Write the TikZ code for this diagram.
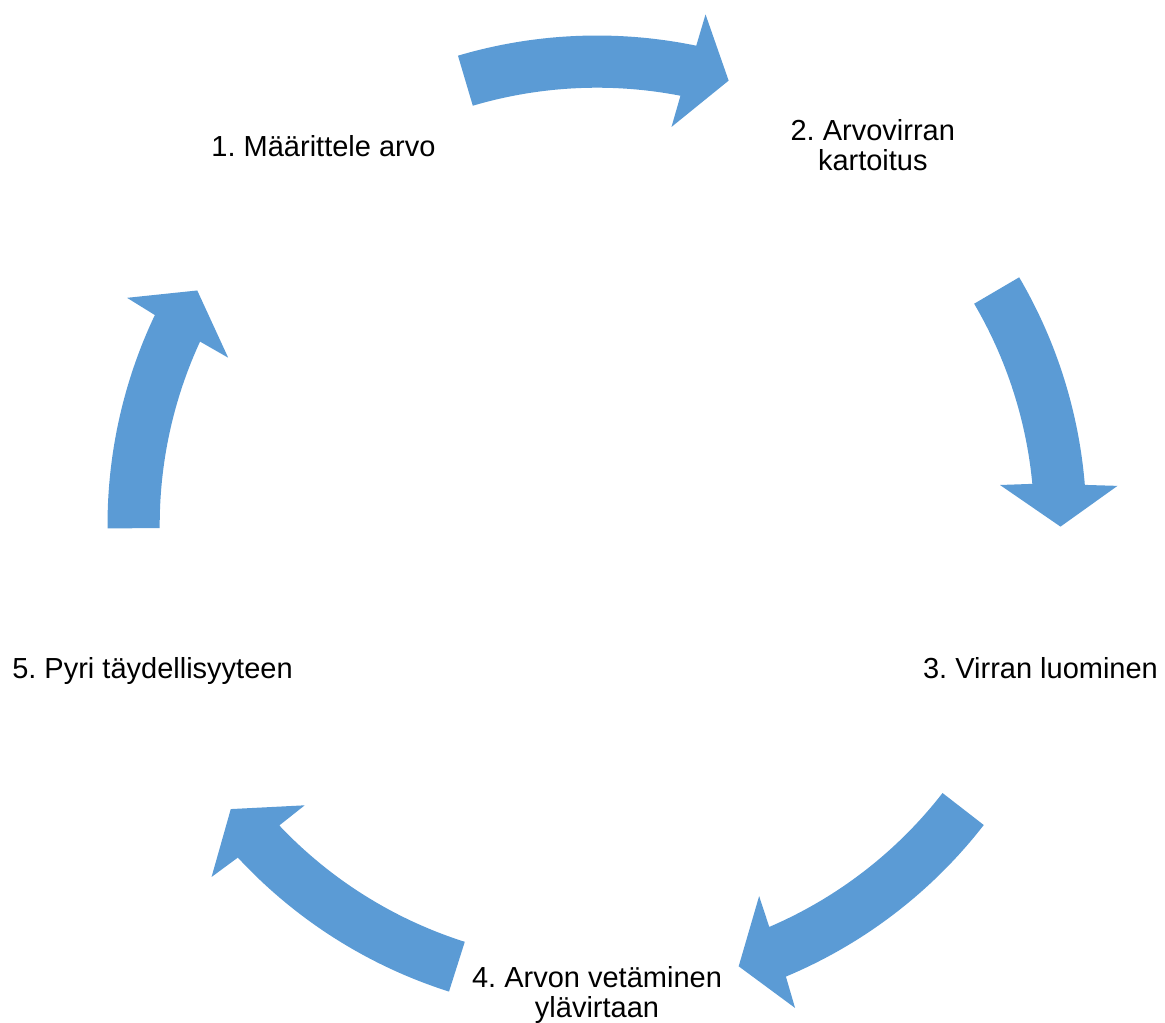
\documentclass[tikz,border=0pt]{standalone}
\usepackage{fontspec}
\setmainfont{Liberation Sans}
\frenchspacing
\definecolor{arrowblue}{RGB}{91,155,213}
\tikzset{
  arrowfill/.style={fill=arrowblue, draw=none},
  lab/.style={inner sep=0pt, outer sep=0pt, font=\fontsize{29}{29}\selectfont\frenchspacing, text=black}
}
% #1 start, #2 outer shoulder, #3 outer wing, #4 tip, #5 inner wing, #6 inner shoulder
\newcommand\cyclearrow[6]{%
  \fill[arrowfill] ([shift={(C)}]#1:489.5) arc[start angle=#1, end angle=#2, radius=489.5]
    -- ([shift={(C)}]#3:522) -- ([shift={(C)}]#4:463.5) -- ([shift={(C)}]#5:405)
    -- ([shift={(C)}]#6:437.3) arc[start angle=#6, end angle=#1, radius=437.3] -- cycle;}
\begin{document}
\begin{tikzpicture}[x=1pt,y=1pt]
\useasboundingbox (0,0) rectangle (1165,-1023);
\coordinate (C) at (597,-525);
\cyclearrow{106.5}{78.3}{78.0}{73.5}{79.4}{79.0}
\cyclearrow{30.4}{4.7}{4.3}{-0.2}{5.67}{5.4}
\cyclearrow{-37.8}{-67.3}{-67.7}{-72.2}{-66.4}{-66.8}
\cyclearrow{-107.6}{-137.2}{-137.6}{-142.2}{-136.2}{-136.6}
\cyclearrow{180.4}{154.6}{154.2}{149.6}{155.6}{155.2}
\node[lab, anchor=base] (l1) at (323.5,-156) {1. Määrittele arvo};
\node[lab, anchor=base] (l2) at (872.8,-140.7) {\begin{tabular}[t]{@{}c@{}}2. Arvovirran\\kartoitus\end{tabular}};
\node[lab, anchor=base] (l3) at (1040.5,-678.3) {3. Virran luominen};
\node[lab, anchor=base] (l4) at (597,-987.3) {\begin{tabular}[t]{@{}c@{}}4. Arvon vetäminen\\ylävirtaan\end{tabular}};
\node[lab, anchor=base] (l5) at (152.5,-678.3) {5. Pyri täydellisyyteen};
\end{tikzpicture}
\end{document}
